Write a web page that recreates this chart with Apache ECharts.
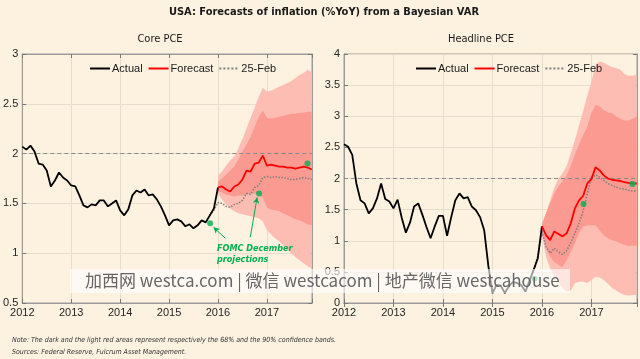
<!DOCTYPE html>
<html><head><meta charset="utf-8">
<script src="https://cdn.jsdelivr.net/npm/echarts@6/dist/echarts.min.js"></script>
<style>html,body{margin:0;padding:0;background:#FDF1E0;}#c{width:640px;height:359px;}</style>
</head><body><div id="c"></div>
<script>
// ---------- DATA ----------
const START_YEAR = 2012;           // month index 0 = Jan 2012
const FORECAST_START = 48;         // Jan 2016
const xTickYears = [2012, 2013, 2014, 2015, 2016, 2017];
const legendNames = ['Actual', 'Forecast', '25-Feb'];

// Core PCE (% YoY), monthly Jan 2012 .. Jan 2016
const coreActual = [2.07,2.04,2.08,2.02,1.90,1.89,1.83,1.67,1.73,1.81,1.76,1.73,
  1.68,1.67,1.58,1.48,1.46,1.49,1.48,1.53,1.53,1.47,1.50,1.53,
  1.43,1.38,1.44,1.58,1.63,1.61,1.64,1.58,1.59,1.54,1.47,1.38,
  1.28,1.33,1.34,1.32,1.27,1.29,1.25,1.28,1.33,1.31,1.38,1.45,1.66];
// Forecast Jan 2016 .. Dec 2017
const coreForecast = [1.66,1.67,1.64,1.62,1.67,1.69,1.74,1.83,1.82,1.90,1.91,1.98,
  1.88,1.89,1.88,1.87,1.87,1.86,1.86,1.85,1.86,1.87,1.86,1.84];
// 25-Feb forecast, Nov 2015 .. Dec 2017
const coreFeb = [1.38,1.43,1.51,1.50,1.47,1.46,1.49,1.50,1.53,1.60,1.59,1.66,1.68,1.76,
  1.77,1.76,1.77,1.76,1.76,1.75,1.74,1.74,1.75,1.76,1.75,1.74];
const coreFebStart = 46;
// Confidence bands, Jan 2016 .. Dec 2017
const coreLo90 = [1.60,1.54,1.49,1.45,1.42,1.40,1.39,1.38,1.37,1.36,1.35,1.32,
  1.23,1.19,1.15,1.12,1.08,1.04,1.00,0.96,0.93,0.90,0.87,0.85];
const coreHi90 = [1.78,1.82,1.88,1.93,1.97,2.05,2.15,2.25,2.36,2.46,2.57,2.66,
  2.62,2.63,2.65,2.67,2.69,2.71,2.73,2.76,2.79,2.81,2.84,2.82];
const coreLo68 = [1.62,1.61,1.59,1.58,1.57,1.58,1.58,1.59,1.60,1.60,1.59,1.56,
  1.46,1.44,1.43,1.42,1.40,1.38,1.36,1.34,1.33,1.31,1.29,1.28];
const coreHi68 = [1.72,1.75,1.79,1.83,1.87,1.94,2.02,2.09,2.17,2.27,2.37,2.43,
  2.36,2.35,2.36,2.37,2.38,2.39,2.40,2.40,2.41,2.41,2.42,2.42];
// FOMC December projections (year-end, plotted at Nov)
const coreFomcX = [2015.84, 2016.84, 2017.83];
const coreFomc = [1.30, 1.60, 1.90];

// Headline PCE (% YoY)
const headActual = [2.55,2.51,2.38,1.92,1.65,1.60,1.44,1.52,1.68,1.92,1.67,1.63,
  1.52,1.66,1.37,1.13,1.29,1.55,1.60,1.42,1.22,1.04,1.23,1.40,
  1.40,1.08,1.38,1.65,1.76,1.68,1.70,1.55,1.49,1.38,1.17,0.60,
  0.16,0.29,0.28,0.16,0.27,0.34,0.32,0.29,0.18,0.36,0.53,0.72,1.23];
const headForecast = [1.23,1.09,1.01,1.15,1.11,1.07,1.12,1.28,1.52,1.65,1.72,1.92,
  1.99,2.18,2.13,2.05,2.00,1.98,1.97,1.96,1.94,1.93,1.92,1.92];
const headFeb = [0.36,0.55,0.75,1.15,0.90,0.80,0.88,0.82,0.78,0.84,0.97,1.12,1.28,1.48,1.75,
  2.02,2.06,2.02,1.97,1.92,1.89,1.86,1.84,1.83,1.81,1.80,1.80];
const headFebStart = 45;
const headLo90 = [1.10,0.74,0.56,0.42,0.32,0.24,0.18,0.20,0.32,0.34,0.34,0.32,
  0.37,0.42,0.41,0.37,0.31,0.24,0.20,0.16,0.13,0.12,0.13,0.13];
const headHi90 = [1.28,1.45,1.65,1.85,2.00,2.08,2.20,2.40,2.62,2.85,3.08,3.33,
  3.55,3.82,3.88,3.86,3.82,3.79,3.77,3.75,3.68,3.65,3.65,3.67];
const headLo68 = [1.17,0.88,0.74,0.66,0.61,0.58,0.69,0.82,0.96,1.12,1.23,1.25,
  1.25,1.25,1.17,1.09,1.04,1.01,0.99,0.96,0.93,0.92,0.92,0.92];
const headHi68 = [1.25,1.44,1.60,1.76,1.87,1.95,2.05,2.20,2.38,2.55,2.70,2.83,
  3.05,3.18,3.16,3.10,3.06,3.05,3.00,2.96,2.93,2.93,2.96,2.99];
const headFomcX = [2015.85, 2016.84, 2017.83];
const headFomc = [0.39, 1.59, 1.91];

// Annotation arrows (data units, core chart): [fromX, fromY, toX, toY]
const fomcArrows = [[2016.15, 1.15, 2015.91, 1.26], [2016.66, 1.16, 2016.80, 1.56]];
const inflationTarget = 2;

// ---------- HELPERS ----------
const monthX = m => START_YEAR + m / 12;
const pairs = (arr, start) => arr.map((v, i) => [monthX(start + i), v]);
const LIGHT = '#FDBDB2', DARK = '#FB9A90', BG = '#FDF1E0';
const FONT = 'Liberation Sans';

function bandSeries(g, lo, hi, color, z) {
  const rows = lo.map((v, i) => [monthX(FORECAST_START + i), v, hi[i]]);
  return {
    type: 'custom', xAxisIndex: g * 2, yAxisIndex: g * 2, z: z, silent: true,
    data: rows, encode: { x: 0, y: [1, 2] },
    renderItem: function (params, api) {
      if (params.dataIndex !== 0) return null;
      const top = rows.map(r => api.coord([r[0], r[2]]));
      const bot = rows.slice().reverse().map(r => api.coord([r[0], r[1]]));
      return { type: 'polygon', shape: { points: top.concat(bot) }, style: { fill: color } };
    }
  };
}

function lineSeries(name, xi, data, color, width, type, z) {
  return { name: name, type: 'line', xAxisIndex: xi, yAxisIndex: xi, data: data, symbol: 'none', z: z,
    itemStyle: { color: color }, lineStyle: { color: color, width: width, type: type } };
}

function chartSeries(g, actual, fc, feb, febStart, lo90, hi90, lo68, hi68, fx, fy) {
  const xi = g * 2;
  const act = lineSeries('Actual', xi, pairs(actual, 0), '#000000', 1.8, 'solid', 4);
  act.markLine = { silent: true, symbol: 'none', label: { show: false }, animation: false,
    lineStyle: { color: '#8a8a8a', width: 1, type: [4, 3] }, data: [{ yAxis: inflationTarget }] };
  const s = [
    bandSeries(g, lo90, hi90, LIGHT, 1),
    bandSeries(g, lo68, hi68, DARK, 2),
    lineSeries('25-Feb', xi, pairs(feb, febStart), '#7f7f7f', 1.5, 'dotted', 3),
    act,
    lineSeries('Forecast', xi, pairs(fc, FORECAST_START), '#FF0000', 1.8, 'solid', 5),
    { name: 'FOMC', type: 'scatter', xAxisIndex: xi, yAxisIndex: xi, z: 6,
      data: fx.map((x, i) => [x, fy[i]]), symbol: 'circle', symbolSize: 6,
      itemStyle: { color: '#00B050' } }
  ];
  if (g === 0) {
    s[5].markLine = { silent: true, symbol: ['none', 'arrow'], symbolSize: [5, 6], animation: false,
      label: { show: false }, lineStyle: { color: '#00B050', width: 1, type: 'solid' },
      data: fomcArrows.map(a => [{ coord: [a[0], a[1]] }, { coord: [a[2], a[3]] }]) };
  }
  return s;
}

const GRIDS = [{ left: 19, top: 54, width: 293, height: 249 }, { left: 344, top: 54, width: 293, height: 249 }];
const yRanges = [[0.5, 3], [0, 4]];
const gridColor = '#9b9b9b';

function xAxes(g) {
  const base = {
    gridIndex: g, type: 'value', min: xTickYears[0], max: monthX(FORECAST_START + 23) + 0.005, interval: 1,
    axisLine: { show: true, lineStyle: { color: gridColor } },
    axisTick: { show: true, inside: true, length: 4, lineStyle: { color: '#777' } },
  };
  return [
    Object.assign({}, base, { position: 'bottom',
      splitLine: { show: true, lineStyle: { color: '#E8DCCB', width: 1 } },
      axisLabel: { color: '#262626', fontFamily: FONT, fontSize: 11, margin: 4,
        formatter: v => (Math.abs(v - Math.round(v)) < 1e-6 && xTickYears.indexOf(Math.round(v)) >= 0) ? String(Math.round(v)) : '' } }),
    Object.assign({}, base, { position: 'top', splitLine: { show: false }, axisLabel: { show: false } })
  ];
}
function yAxes(g) {
  const base = {
    gridIndex: g, type: 'value', min: yRanges[g][0], max: yRanges[g][1], interval: 0.5,
    axisLine: { show: true, lineStyle: { color: gridColor } },
    axisTick: { show: true, inside: true, length: 4, lineStyle: { color: '#777' } },
  };
  return [
    Object.assign({}, base, { position: 'left',
      splitLine: { show: true, lineStyle: { color: '#E8DCCB', width: 1 } },
      axisLabel: { color: '#262626', fontFamily: FONT, fontSize: 11, margin: 4 } }),
    Object.assign({}, base, { position: 'right', splitLine: { show: false }, axisLabel: { show: false } })
  ];
}

const legendBase = { data: legendNames, top: 63, padding: 0, itemWidth: 20, itemHeight: 12, itemGap: 5,
  selectedMode: false, itemStyle: { opacity: 0 },
  textStyle: { fontFamily: FONT, fontSize: 11, color: '#1a1a1a', padding: [0, 0, 0, -3] } };

const option = {
  backgroundColor: BG,
  animation: false,
  grid: GRIDS.map(g => Object.assign({ show: true, borderColor: gridColor, borderWidth: 1, backgroundColor: 'transparent' }, g)),
  xAxis: xAxes(0).concat(xAxes(1)),
  yAxis: yAxes(0).concat(yAxes(1)),
  legend: [Object.assign({ left: 89 }, legendBase), Object.assign({ left: 415 }, legendBase)],
  series: chartSeries(0, coreActual, coreForecast, coreFeb, coreFebStart, coreLo90, coreHi90, coreLo68, coreHi68, coreFomcX, coreFomc)
    .concat(chartSeries(1, headActual, headForecast, headFeb, headFebStart, headLo90, headHi90, headLo68, headHi68, headFomcX, headFomc)),
  graphic: [
    { type: 'text', x: 324, y: 12, z: 10, style: { text: 'USA: Forecasts of inflation (%YoY) from a Bayesian VAR',
      align: 'center', verticalAlign: 'middle', font: 'bold 11px "DejaVu Sans Condensed"', fill: '#1a1a1a' } },
    { type: 'text', x: 160, y: 39, z: 10, style: { text: 'Core PCE', align: 'center', verticalAlign: 'middle',
      font: '11px "DejaVu Sans Condensed"', fill: '#1a1a1a' } },
    { type: 'text', x: 481, y: 39, z: 10, style: { text: 'Headline PCE', align: 'center', verticalAlign: 'middle',
      font: '11px "DejaVu Sans Condensed"', fill: '#1a1a1a' } },
    { type: 'text', x: 217, y: 249, z: 10, style: { text: 'FOMC December', verticalAlign: 'middle',
      font: 'italic bold 9px "DejaVu Sans Condensed"', fill: '#00B050' } },
    { type: 'text', x: 217, y: 260, z: 10, style: { text: 'projections', verticalAlign: 'middle',
      font: 'italic bold 9px "DejaVu Sans Condensed"', fill: '#00B050' } },
    { type: 'text', x: 12, y: 340, z: 10, style: { text: 'Note: The dark and the light red areas represent respectively the 68% and the 90% confidence bands.',
      verticalAlign: 'middle', font: 'italic 7px "DejaVu Sans Condensed"', fill: '#333' } },
    { type: 'text', x: 12, y: 352, z: 10, style: { text: 'Sources: Federal Reserve, Fulcrum Asset Management.',
      verticalAlign: 'middle', font: 'italic 7px "DejaVu Sans Condensed"', fill: '#333' } },
    { type: 'rect', z: 20, shape: { x: 70, y: 269, width: 500, height: 24 }, style: { fill: 'rgba(255,255,255,0.6)' } },
    { type: 'text', x: 85, y: 281, z: 21, style: { text: '加西网 westca.com | 微信 westcacom | 地产微信 westcahouse',
      verticalAlign: 'middle', font: '17px "Noto Sans CJK SC"', fill: '#666666' } }
  ]
};

const chart = echarts.init(document.getElementById('c'), null, { renderer: 'canvas' });
chart.setOption(option);
</script>
</body></html>
